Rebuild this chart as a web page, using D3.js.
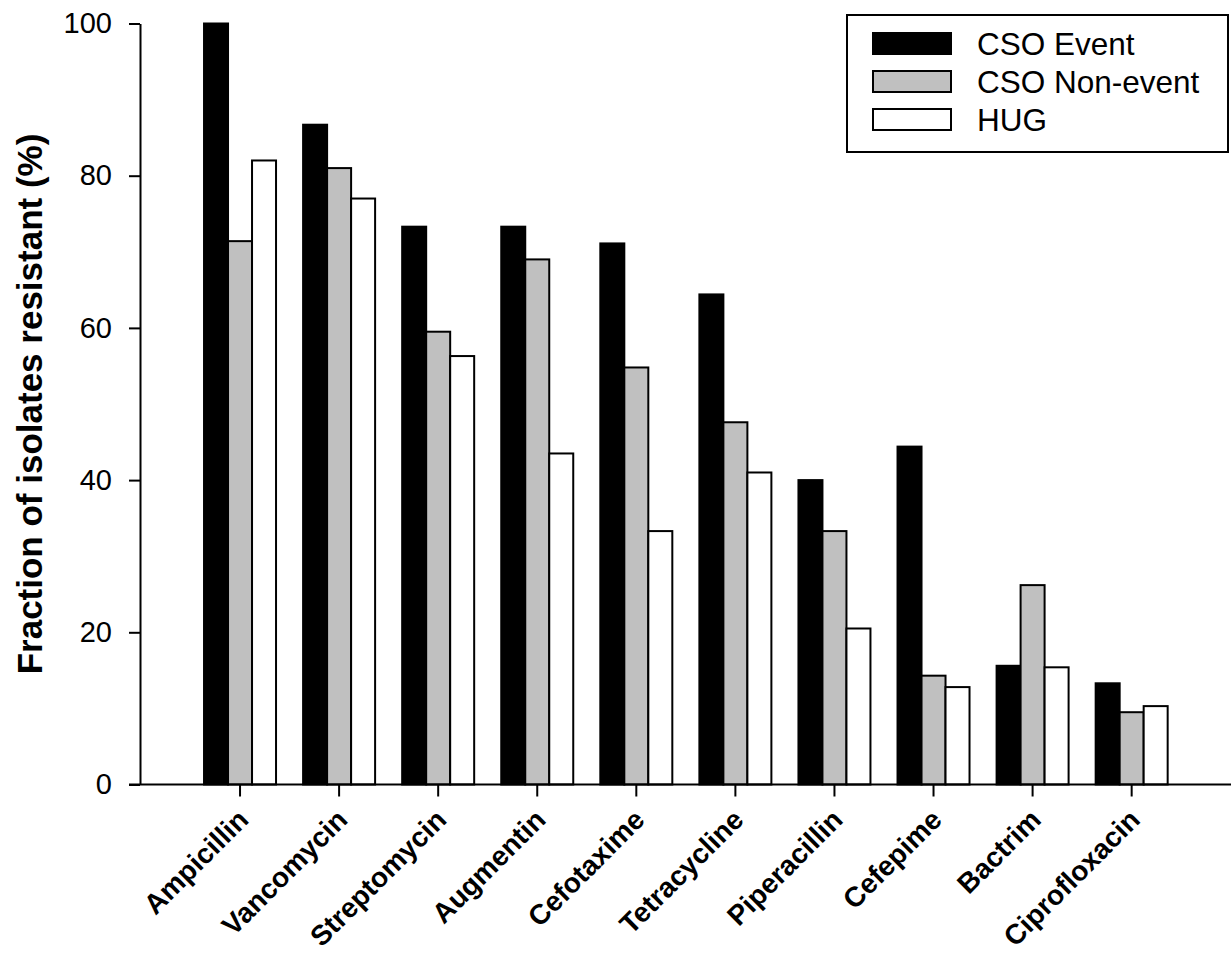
<!DOCTYPE html>
<html>
<head>
<meta charset="utf-8">
<script src="https://cdn.jsdelivr.net/npm/d3@7"></script>
<style>
  html, body { margin: 0; padding: 0; background: #fff; }
  svg { display: block; font-family: "Liberation Sans", Arial, sans-serif; }
</style>
</head>
<body>
<svg id="chart" width="1232" height="953"></svg>
<script>
// Antibiotic resistance by source
const antibiotics = ["Ampicillin", "Vancomycin", "Streptomycin", "Augmentin", "Cefotaxime",
                     "Tetracycline", "Piperacillin", "Cefepime", "Bactrim", "Ciprofloxacin"];
const seriesNames = ["CSO Event", "CSO Non-event", "HUG"];
const csoEvent    = [100, 86.7, 73.3, 73.3, 71.1, 64.4, 40.0, 44.4, 15.6, 13.3];
const csoNonEvent = [71.4, 81.0, 59.5, 69.0, 54.8, 47.6, 33.3, 14.3, 26.2, 9.5];
const hug         = [82.0, 77.0, 56.3, 43.5, 33.3, 41.0, 20.5, 12.8, 15.4, 10.3];
const yTicks = [0, 20, 40, 60, 80, 100];
const fills = ["#000000", "#c0c0c0", "#ffffff"];

const seriesValues = [csoEvent, csoNonEvent, hug];
const rows = antibiotics.map((name, i) => ({
  name,
  values: seriesNames.map((s, j) => ({ series: s, value: seriesValues[j][i] }))
}));

const svg = d3.select("#chart");

const y = d3.scaleLinear().domain([0, 100]).range([784.5, 23.5]);
const x = d3.scaleBand().domain(antibiotics).range([190.5, 1181.2]).padding(0);
const xs = d3.scaleBand().domain(seriesNames).range([-36, 36]).padding(0);
const fill = d3.scaleOrdinal().domain(seriesNames).range(fills);

// bars
const groups = svg.append("g").selectAll("g")
  .data(rows).join("g")
  .attr("transform", d => `translate(${x(d.name) + x.bandwidth() / 2},0)`);

groups.selectAll("rect")
  .data(d => d.values).join("rect")
  .attr("x", d => xs(d.series))
  .attr("width", xs.bandwidth())
  .attr("y", d => y(d.value))
  .attr("height", d => y(0) - y(d.value))
  .attr("fill", d => fill(d.series))
  .attr("stroke", "#000")
  .attr("stroke-width", 2);

// y axis
const yAxis = svg.append("g")
  .attr("transform", "translate(140,0)")
  .call(d3.axisLeft(y).tickValues(yTicks).tickSize(11).tickSizeOuter(0).tickPadding(17));
yAxis.select(".domain").attr("stroke-width", 2);
yAxis.selectAll(".tick line").attr("stroke-width", 2);
yAxis.selectAll(".tick text")
  .attr("font-size", 29)
  .attr("font-family", "Liberation Sans, Arial, sans-serif")
  .attr("fill", "#000");

// x axis
const xAxis = svg.append("g")
  .attr("transform", `translate(0,${y(0)})`)
  .call(d3.axisBottom(x).tickSize(12).tickSizeOuter(0));
xAxis.select(".domain").remove();
xAxis.append("line")
  .attr("x1", 129).attr("x2", 1231)
  .attr("stroke", "#000").attr("stroke-width", 2);
xAxis.selectAll(".tick line").attr("stroke-width", 2);
xAxis.selectAll(".tick text")
  .attr("x", 0).attr("y", 0).attr("dy", 0)
  .attr("text-anchor", "end")
  .attr("transform", "translate(10,37) rotate(-45)")
  .attr("font-size", 28)
  .attr("font-weight", "bold")
  .attr("font-family", "Liberation Sans, Arial, sans-serif")
  .attr("fill", "#000");

// y axis title
svg.append("text")
  .attr("transform", "translate(42,404) rotate(-90)")
  .attr("text-anchor", "middle")
  .attr("font-size", 35)
  .attr("font-weight", "bold")
  .attr("fill", "#000")
  .text("Fraction of isolates resistant (%)");

// legend
const legend = svg.append("g");
legend.append("rect")
  .attr("x", 847).attr("y", 15)
  .attr("width", 381).attr("height", 137)
  .attr("fill", "#fff").attr("stroke", "#000").attr("stroke-width", 2);

const baselines = [55, 93, 131];
const items = legend.selectAll("g.item")
  .data(seriesNames).join("g")
  .attr("class", "item")
  .attr("transform", (d, i) => `translate(0,${baselines[i]})`);
items.append("rect")
  .attr("x", 873).attr("y", -22)
  .attr("width", 78).attr("height", 21)
  .attr("fill", d => fill(d))
  .attr("stroke", "#000").attr("stroke-width", 2);
items.append("text")
  .attr("x", 977).attr("y", 0)
  .attr("font-size", 31.5)
  .attr("fill", "#000")
  .text(d => d);
</script>
</body>
</html>
